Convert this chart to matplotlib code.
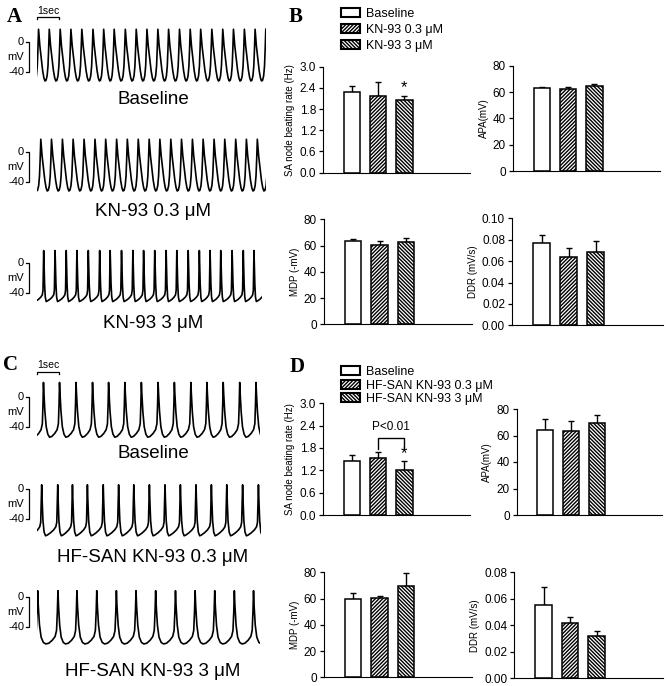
import numpy as np
import matplotlib.pyplot as plt
from matplotlib.patches import Patch, Rectangle

plt.rcParams['font.family'] = ['Liberation Sans', 'DejaVu Sans']
plt.rcParams['hatch.linewidth'] = 1.0

W, H = 669, 686

# ---------------- bar chart data ----------------
groups_B = ['Baseline', 'KN-93 0.3 μM', 'KN-93 3 μM']
groups_D = ['Baseline', 'HF-SAN KN-93 0.3 μM', 'HF-SAN KN-93 3 μM']
hatches = ['', '/' * 9, '\\' * 9]

rate_B = [2.29, 2.18, 2.05]
rate_B_err = [0.17, 0.38, 0.12]
apa_B = [62.8, 62.3, 64.6]
apa_B_err = [1.2, 1.7, 1.3]
mdp_B = [63.2, 60.3, 63.0]
mdp_B_err = [1.5, 3.2, 2.5]
ddr_B = [0.0766, 0.0641, 0.0685]
ddr_B_err = [0.0075, 0.0081, 0.0100]

rate_D = [1.44, 1.52, 1.22]
rate_D_err = [0.18, 0.17, 0.22]
apa_D = [64.2, 63.6, 69.2]
apa_D_err = [8.5, 7.1, 6.5]
mdp_D = [59.9, 60.4, 69.3]
mdp_D_err = [4.1, 1.5, 10.4]
ddr_D = [0.0553, 0.0417, 0.0319]
ddr_D_err = [0.0134, 0.0048, 0.0040]

rate_ticks = [0.0, 0.6, 1.2, 1.8, 2.4, 3.0]
mv_ticks = [0, 20, 40, 60, 80]
ddr_ticks_B = [0.00, 0.02, 0.04, 0.06, 0.08, 0.10]
ddr_ticks_D = [0.00, 0.02, 0.04, 0.06, 0.08]

# ---------------- action potential recordings ----------------
# peak times (s)
peaks_a_base = [0.07, 0.55, 1.04, 1.52, 2.01, 2.51, 2.99, 3.46, 3.96, 4.45, 4.93,
                5.42, 5.90, 6.39, 6.87, 7.34, 7.84, 8.33, 8.81, 9.30, 9.78]
peaks_a_low = [0.17, 0.65, 1.14, 1.62, 2.11, 2.60, 3.08, 3.57, 4.05, 4.54, 5.03,
               5.51, 6.00, 6.48, 6.97, 7.45, 7.94, 8.42, 8.91, 9.39, 9.88]
peaks_a_high = [0.30, 0.81, 1.31, 1.79, 2.30, 2.81, 3.28, 3.79, 4.30, 4.78,
                5.28, 5.79, 6.27, 6.78, 7.28, 7.76, 8.24, 8.75, 9.25, 9.73]
peaks_c_base = [0.29, 1.01, 1.75, 2.49, 3.21, 3.94, 4.68, 5.43, 6.16, 6.90,
                7.62, 8.35, 9.09, 9.82]
peaks_c_low = [0.21, 0.93, 1.59, 2.26, 2.97, 3.66, 4.34, 5.04, 5.74, 6.43,
               7.13, 7.82, 8.51, 9.22, 9.93]
peaks_c_high = [0.03, 0.94, 1.79, 2.68, 3.56, 4.44, 5.32, 6.21, 7.09, 7.97,
                8.85, 9.71]

# one cycle (peak to next peak): phase fraction and membrane potential (mV)
phase_a = [0, 0.05, 0.12, 0.25, 0.38, 0.5, 0.6, 0.7, 0.8, 0.88, 0.94, 1.0]
volts_a = [17, 8, -5, -22, -38, -48, -52, -51, -45, -32, -10, 17]
phase_a3 = [0, 0.03, 0.08, 0.14, 0.22, 0.35, 0.55, 0.75, 0.88, 0.94, 0.97, 1.0]
volts_a3 = [17, 0, -28, -45, -51, -50, -48, -45, -42, -36, -10, 17]
phase_c = [0, 0.03, 0.09, 0.17, 0.27, 0.38, 0.52, 0.7, 0.85, 0.93, 0.97, 1.0]
volts_c = [19, 4, -20, -40, -50, -54, -53, -49, -44, -36, -10, 19]
phase_c1 = [0, 0.03, 0.08, 0.15, 0.24, 0.35, 0.55, 0.75, 0.88, 0.94, 0.97, 1.0]
volts_c1 = [6, -15, -42, -57, -62, -61, -58, -54, -50, -44, -20, 6]
phase_c3 = [0, 0.03, 0.09, 0.17, 0.28, 0.4, 0.55, 0.72, 0.86, 0.93, 0.97, 1.0]
volts_c3 = [8, -12, -38, -54, -61, -63, -62, -58, -53, -45, -20, 8]

traces = [
    # peaks, phase, volts, end time, 0 mV pixel row, label, label row, time bar
    (peaks_a_base, phase_a, volts_a, 10.25, 42.0, 'Baseline', 100, True),
    (peaks_a_low, phase_a, volts_a, 10.25, 152.0, 'KN-93 0.3 μM', 212, False),
    (peaks_a_high, phase_a3, volts_a3, 10.1, 263.3, 'KN-93 3 μM', 323, False),
    (peaks_c_base, phase_c, volts_c, 10.0, 396.7, 'Baseline', 453, True),
    (peaks_c_low, phase_c1, volts_c1, 10.03, 489.3, 'HF-SAN KN-93 0.3 μM', 557, False),
    (peaks_c_high, phase_c3, volts_c3, 10.0, 596.7, 'HF-SAN KN-93 3 μM', 672, False),
]


def beat_trace(peaks, phase, volts):
    peaks = np.asarray(peaks, dtype=float)
    gaps = np.diff(peaks)
    starts = np.concatenate([[peaks[0] - gaps[0]], peaks])
    ends = np.concatenate([peaks, [peaks[-1] + gaps[-1]]])
    t, v = [], []
    for a, b in zip(starts, ends):
        t.extend(a + (b - a) * np.asarray(phase[:-1]))
        v.extend(volts[:-1])
    t.append(ends[-1])
    v.append(volts[-1])
    return np.array(t), np.array(v)


def px_axes(fig, left, top, right, bottom):
    return fig.add_axes([left / W, 1 - bottom / H, (right - left) / W, (bottom - top) / H])


fig = plt.figure(figsize=(W / 100, H / 100), dpi=100)

# ---- trace panels ----
px_per_s = 22.3
px_per_mv = 0.75
t0_px = 37
xlo, xhi = -1.6, 10.6
ylo, yhi = -75, 48
for peaks, ph, vo, tend, y0, label, ly, tbar in traces:
    ax = px_axes(fig, t0_px + xlo * px_per_s, y0 - yhi * px_per_mv,
                 t0_px + xhi * px_per_s, y0 - ylo * px_per_mv)
    ax.set_xlim(xlo, xhi)
    ax.set_ylim(ylo, yhi)
    ax.axis('off')
    t, v = beat_trace(peaks, ph, vo)
    line, = ax.plot(t, v, color='black', lw=1.2)
    clip = Rectangle((0, -200), tend, 400, transform=ax.transData)
    line.set_clip_path(clip)
    # voltage scale bracket
    ax.plot([-0.49, -0.345, -0.345, -0.49], [0, 0, -40, -40], color='black', lw=0.9)
    ax.text(-0.58, 0, '0', ha='right', va='center', fontsize=8)
    ax.text(-0.58, -20, 'mV', ha='right', va='center', fontsize=8)
    ax.text(-0.58, -40, '-40', ha='right', va='center', fontsize=8)
    if tbar:
        ax.plot([0, 0, 1, 1], [30, 33, 33, 30], color='black', lw=0.9)
        ax.text(0.5, 35, '1sec', ha='center', va='bottom', fontsize=7.5)
    fig.text(153 / W, 1 - ly / H, label, ha='center', va='center', fontsize=13.5)

# ---- bar panels ----
xpos = np.arange(3)


def bar_panel(rect, vals, errs, ylim, ticks, fmt, ylabel):
    ax = px_axes(fig, *rect)
    for x, val, err, hat in zip(xpos, vals, errs, hatches):
        ax.bar(x, val, width=0.63, color='white', edgecolor='black', linewidth=1.1,
               hatch=hat, zorder=2)
        ax.errorbar(x, val, yerr=[[0], [err]], color='black', lw=1.0, capsize=2.5,
                    capthick=1.0, zorder=1)
    ax.set_xlim(-1.1, 4.5)
    ax.set_ylim(*ylim)
    ax.set_yticks(ticks)
    ax.set_yticklabels([fmt.format(t) for t in ticks], fontsize=8.5)
    ax.set_xticks([])
    ax.spines['top'].set_visible(False)
    ax.spines['right'].set_visible(False)
    ax.tick_params(axis='y', direction='out', length=3, width=0.9, pad=2)
    ax.set_ylabel(ylabel, fontsize=7, labelpad=3)
    return ax


ax_b1 = bar_panel((323, 66.7, 470, 172.7), rate_B, rate_B_err, (0, 3), rate_ticks,
                  '{:.1f}', 'SA node beating rate (Hz)')
ax_b1.text(2, rate_B[2] + rate_B_err[2] + 0.02, '*', ha='center', va='bottom', fontsize=12)
bar_panel((513, 65.7, 660, 171), apa_B, apa_B_err, (0, 80), mv_ticks, '{:d}', 'APA(mV)')
bar_panel((324, 219.3, 472, 324.3), mdp_B, mdp_B_err, (0, 80), mv_ticks, '{:d}', 'MDP (-mV)')
bar_panel((512, 218.3, 663, 325.3), ddr_B, ddr_B_err, (0, 0.1), ddr_ticks_B, '{:.2f}', 'DDR (mV/s)')

ax_d1 = bar_panel((323, 403.3, 470, 515), rate_D, rate_D_err, (0, 3), rate_ticks,
                  '{:.1f}', 'SA node beating rate (Hz)')
ax_d1.text(2, rate_D[2] + rate_D_err[2] + 0.0, '*', ha='center', va='bottom', fontsize=12)
ax_d1.plot([1, 1, 2, 2], [1.77, 2.08, 2.08, 1.77], color='black', lw=1.0)
ax_d1.text(1.5, 2.2, 'P<0.01', ha='center', va='bottom', fontsize=8.5)
bar_panel((516.7, 409, 661.7, 515), apa_D, apa_D_err, (0, 80), mv_ticks, '{:d}', 'APA(mV)')
bar_panel((324, 572.3, 472, 677.3), mdp_D, mdp_D_err, (0, 80), mv_ticks, '{:d}', 'MDP (-mV)')
bar_panel((514.3, 572.3, 663, 678.3), ddr_D, ddr_D_err, (0, 0.08), ddr_ticks_D, '{:.2f}', 'DDR (mV/s)')

# ---- legends ----
for ax, names, anchor, spacing in [(ax_b1, groups_B, (341, 8), 0.3), (ax_d1, groups_D, (341, 366), 0.12)]:
    handles = [Patch(facecolor='white', edgecolor='black', hatch=h, linewidth=1.5) for h in hatches]
    ax.legend(handles, names, loc='upper left',
              bbox_to_anchor=(anchor[0] / W, 1 - anchor[1] / H), bbox_transform=fig.transFigure,
              frameon=False, fontsize=9, handlelength=1.5, handleheight=0.7,
              labelspacing=spacing, handletextpad=0.5, borderaxespad=0, borderpad=0)

# ---- panel letters ----
for letter, x, y in [('A', 14, 17), ('B', 296, 17), ('C', 11, 365), ('D', 297, 367)]:
    fig.text(x / W, 1 - y / H, letter, ha='center', va='center', fontsize=15,
             fontweight='bold', family='Liberation Serif')

fig.savefig('out.png', dpi=100)
